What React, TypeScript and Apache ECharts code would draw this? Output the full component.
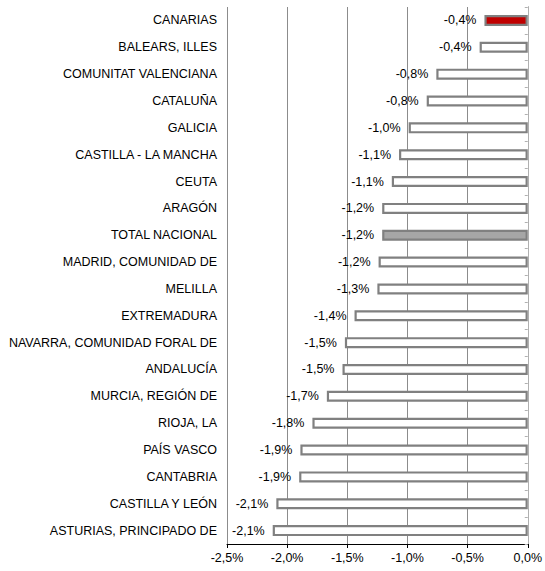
import React, { useEffect, useRef } from "react";
import * as echarts from "echarts";

const categories = [
  "CANARIAS",
  "BALEARS, ILLES",
  "COMUNITAT VALENCIANA",
  "CATALUÑA",
  "GALICIA",
  "CASTILLA - LA MANCHA",
  "CEUTA",
  "ARAGÓN",
  "TOTAL NACIONAL",
  "MADRID, COMUNIDAD DE",
  "MELILLA",
  "EXTREMADURA",
  "NAVARRA, COMUNIDAD FORAL DE",
  "ANDALUCÍA",
  "MURCIA, REGIÓN DE",
  "RIOJA, LA",
  "PAÍS VASCO",
  "CANTABRIA",
  "CASTILLA Y LEÓN",
  "ASTURIAS, PRINCIPADO DE",
];

const values = [
  -0.36, -0.4, -0.76, -0.84, -0.99, -1.07, -1.13, -1.21, -1.21, -1.24, -1.25,
  -1.44, -1.52, -1.54, -1.67, -1.79, -1.89, -1.9, -2.09, -2.12,
];

const xTicks = [-2.5, -2.0, -1.5, -1.0, -0.5, 0.0];

const fmt = (v: number) => {
  const s = Math.abs(v) < 1e-9 ? "0,0" : v.toFixed(1).replace(".", ",");
  return s + "%";
};

export default function App() {
  const ref = useRef<HTMLDivElement>(null);
  useEffect(() => {
    if (!ref.current) return;
    const chart = echarts.init(ref.current, undefined, { renderer: "svg" });
    const font = "'Liberation Sans', Arial, sans-serif";
    chart.setOption({
      animation: false,
      backgroundColor: "#ffffff",
      grid: { left: 227, right: 15, top: 7, bottom: 27, containLabel: false },
      xAxis: {
        type: "value",
        min: xTicks[0],
        max: xTicks[xTicks.length - 1],
        interval: 0.5,
        axisLine: { show: true, lineStyle: { color: "#000000", width: 1 } },
        axisTick: { show: true, length: 4, lineStyle: { color: "#000000" } },
        axisLabel: {
          formatter: (v: number) => fmt(v),
          color: "#000000",
          fontSize: 12.5,
          fontFamily: font,
          margin: 7,
        },
        splitLine: { show: true, lineStyle: { color: "#8c8c8c", width: 1 } },
      },
      yAxis: [
        {
          type: "category",
          data: categories,
          inverse: true,
          position: "left",
          axisLine: { show: true, lineStyle: { color: "#7f7f7f", width: 1 } },
          axisTick: { show: false },
          axisLabel: {
            color: "#000000",
            fontSize: 12.5,
            fontFamily: font,
            margin: 10,
          },
        },
        {
          type: "category",
          data: categories,
          inverse: true,
          position: "right",
          axisLine: { show: true, lineStyle: { color: "#b0b0b0", width: 1 } },
          axisTick: { show: true, inside: true, length: 3, lineStyle: { color: "#b0b0b0" } },
          axisLabel: { show: false },
        },
      ],
      series: [
        {
          type: "bar",
          yAxisIndex: 0,
          data: values.map((v, i) => ({
            value: v,
            itemStyle: {
              color:
                categories[i] === "CANARIAS"
                  ? "#c00000"
                  : categories[i] === "TOTAL NACIONAL"
                  ? "#a6a6a6"
                  : "#ffffff",
              borderColor: "#808080",
              borderWidth: 2.2,
            },
          })),
          barWidth: 11,
          label: {
            show: true,
            position: "left",
            distance: 8,
            formatter: (p: any) => fmt(p.value),
            color: "#000000",
            fontSize: 12.5,
            fontFamily: font,
          },
        },
      ],
    });
    return () => chart.dispose();
  }, []);
  return (
    <div
      ref={ref}
      style={{ position: "absolute", left: 0, top: 0, width: 545, height: 571 }}
    />
  );
}
